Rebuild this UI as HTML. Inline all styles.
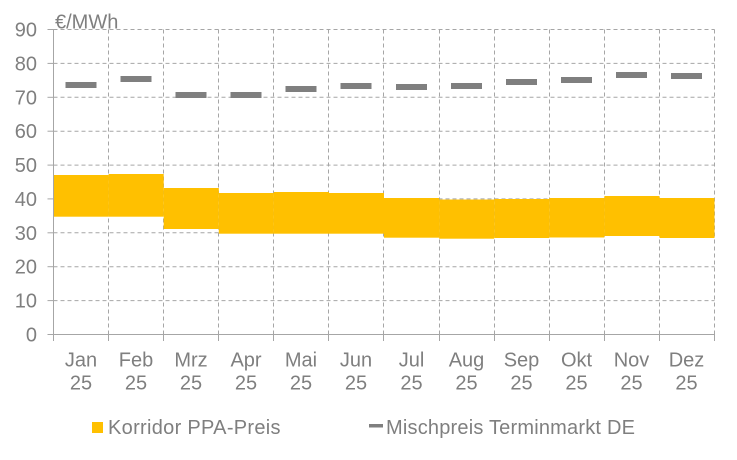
<!DOCTYPE html>
<html>
<head>
<meta charset="utf-8">
<style>
html,body{margin:0;padding:0;background:#fff;}
svg{display:block;}
text{font-family:"Liberation Sans",Arial,sans-serif;fill:#7f7f7f;font-size:20px;}
</style>
</head>
<body>
<svg width="737" height="460" viewBox="0 0 737 460" xmlns="http://www.w3.org/2000/svg">
  <!-- horizontal dashed gridlines -->
  <g stroke="#a6a6a6" stroke-width="1" stroke-dasharray="4,3" fill="none">
    <line x1="53.5" y1="29.5" x2="714.5" y2="29.5"/>
    <line x1="53.5" y1="63.4" x2="714.5" y2="63.4"/>
    <line x1="53.5" y1="97.3" x2="714.5" y2="97.3"/>
    <line x1="53.5" y1="131.2" x2="714.5" y2="131.2"/>
    <line x1="53.5" y1="165.1" x2="714.5" y2="165.1"/>
    <line x1="53.5" y1="198.9" x2="714.5" y2="198.9"/>
    <line x1="53.5" y1="232.8" x2="714.5" y2="232.8"/>
    <line x1="53.5" y1="266.7" x2="714.5" y2="266.7"/>
    <line x1="53.5" y1="300.6" x2="714.5" y2="300.6"/>
    <!-- vertical -->
    <line x1="108.5" y1="29.5" x2="108.5" y2="334.5"/>
    <line x1="163.5" y1="29.5" x2="163.5" y2="334.5"/>
    <line x1="218.5" y1="29.5" x2="218.5" y2="334.5"/>
    <line x1="273.5" y1="29.5" x2="273.5" y2="334.5"/>
    <line x1="328.5" y1="29.5" x2="328.5" y2="334.5"/>
    <line x1="383.5" y1="29.5" x2="383.5" y2="334.5"/>
    <line x1="439.5" y1="29.5" x2="439.5" y2="334.5"/>
    <line x1="494.5" y1="29.5" x2="494.5" y2="334.5"/>
    <line x1="549.5" y1="29.5" x2="549.5" y2="334.5"/>
    <line x1="604.5" y1="29.5" x2="604.5" y2="334.5"/>
    <line x1="659.5" y1="29.5" x2="659.5" y2="334.5"/>
    <line x1="714.5" y1="29.5" x2="714.5" y2="334.5"/>
  </g>

  <!-- yellow corridor band -->
  <g fill="#ffc000">
    <rect x="53.5" y="175" width="55.1" height="41.7"/>
    <rect x="108.6" y="174" width="55.1" height="42.7"/>
    <rect x="163.7" y="188" width="55.1" height="41"/>
    <rect x="218.8" y="193" width="55.1" height="40.7"/>
    <rect x="273.9" y="192" width="55.1" height="41.7"/>
    <rect x="329" y="193" width="55" height="40.7"/>
    <rect x="384" y="198" width="55.1" height="39.7"/>
    <rect x="439.1" y="199.5" width="55.1" height="39.2"/>
    <rect x="494.2" y="199" width="55.1" height="39"/>
    <rect x="549.3" y="198" width="55.1" height="39.5"/>
    <rect x="604.4" y="196" width="55.1" height="40"/>
    <rect x="659.5" y="198" width="55" height="40"/>
  </g>

  <!-- gray Mischpreis dashes -->
  <g fill="#7f7f7f">
    <rect x="65.5" y="82" width="31" height="6"/>
    <rect x="120.5" y="76" width="31" height="6"/>
    <rect x="175.5" y="92" width="31" height="6"/>
    <rect x="230.5" y="92" width="31" height="6"/>
    <rect x="285.5" y="86" width="31" height="6"/>
    <rect x="340.5" y="83" width="31" height="6"/>
    <rect x="396" y="84" width="31" height="6"/>
    <rect x="451" y="83" width="31" height="6"/>
    <rect x="506" y="79" width="31" height="6"/>
    <rect x="561" y="77" width="31" height="6"/>
    <rect x="616" y="72" width="31" height="6"/>
    <rect x="671" y="73" width="31" height="6"/>
  </g>

  <!-- axes -->
  <g stroke="#a6a6a6" stroke-width="1" fill="none">
    <line x1="53.5" y1="29.5" x2="53.5" y2="341"/>
    <line x1="47.5" y1="334.5" x2="714.5" y2="334.5"/>
    <!-- y ticks -->
    <line x1="47.5" y1="29.5" x2="53.5" y2="29.5"/>
    <line x1="47.5" y1="63.4" x2="53.5" y2="63.4"/>
    <line x1="47.5" y1="97.3" x2="53.5" y2="97.3"/>
    <line x1="47.5" y1="131.2" x2="53.5" y2="131.2"/>
    <line x1="47.5" y1="165.1" x2="53.5" y2="165.1"/>
    <line x1="47.5" y1="198.9" x2="53.5" y2="198.9"/>
    <line x1="47.5" y1="232.8" x2="53.5" y2="232.8"/>
    <line x1="47.5" y1="266.7" x2="53.5" y2="266.7"/>
    <line x1="47.5" y1="300.6" x2="53.5" y2="300.6"/>
    <!-- x ticks -->
    <line x1="108.5" y1="334.5" x2="108.5" y2="341"/>
    <line x1="163.5" y1="334.5" x2="163.5" y2="341"/>
    <line x1="218.5" y1="334.5" x2="218.5" y2="341"/>
    <line x1="273.5" y1="334.5" x2="273.5" y2="341"/>
    <line x1="328.5" y1="334.5" x2="328.5" y2="341"/>
    <line x1="383.5" y1="334.5" x2="383.5" y2="341"/>
    <line x1="439.5" y1="334.5" x2="439.5" y2="341"/>
    <line x1="494.5" y1="334.5" x2="494.5" y2="341"/>
    <line x1="549.5" y1="334.5" x2="549.5" y2="341"/>
    <line x1="604.5" y1="334.5" x2="604.5" y2="341"/>
    <line x1="659.5" y1="334.5" x2="659.5" y2="341"/>
    <line x1="714.5" y1="334.5" x2="714.5" y2="341"/>
  </g>

  <!-- y labels -->
  <g text-anchor="end">
    <text x="37" y="36.5">90</text>
    <text x="37" y="70.4">80</text>
    <text x="37" y="104.3">70</text>
    <text x="37" y="138.2">60</text>
    <text x="37" y="172.1">50</text>
    <text x="37" y="205.9">40</text>
    <text x="37" y="239.8">30</text>
    <text x="37" y="273.7">20</text>
    <text x="37" y="307.6">10</text>
    <text x="37" y="341.5">0</text>
  </g>
  <text x="55" y="28.5">€/MWh</text>

  <!-- x labels -->
  <g text-anchor="middle">
    <text x="81" y="366.5">Jan</text><text x="81" y="389.5">25</text>
    <text x="136" y="366.5">Feb</text><text x="136" y="389.5">25</text>
    <text x="191" y="366.5">Mrz</text><text x="191" y="389.5">25</text>
    <text x="246" y="366.5">Apr</text><text x="246" y="389.5">25</text>
    <text x="301" y="366.5">Mai</text><text x="301" y="389.5">25</text>
    <text x="356" y="366.5">Jun</text><text x="356" y="389.5">25</text>
    <text x="411.5" y="366.5">Jul</text><text x="411.5" y="389.5">25</text>
    <text x="466.5" y="366.5">Aug</text><text x="466.5" y="389.5">25</text>
    <text x="521.5" y="366.5">Sep</text><text x="521.5" y="389.5">25</text>
    <text x="576.5" y="366.5">Okt</text><text x="576.5" y="389.5">25</text>
    <text x="631.5" y="366.5">Nov</text><text x="631.5" y="389.5">25</text>
    <text x="686.5" y="366.5">Dez</text><text x="686.5" y="389.5">25</text>
  </g>

  <!-- legend -->
  <rect x="92" y="422" width="11" height="11" fill="#ffc000"/>
  <text x="108" y="434" letter-spacing="0.3">Korridor PPA-Preis</text>
  <rect x="369" y="424" width="14" height="3.5" fill="#7f7f7f"/>
  <text x="386" y="434" letter-spacing="0.2">Mischpreis Terminmarkt DE</text>
</svg>
</body>
</html>
